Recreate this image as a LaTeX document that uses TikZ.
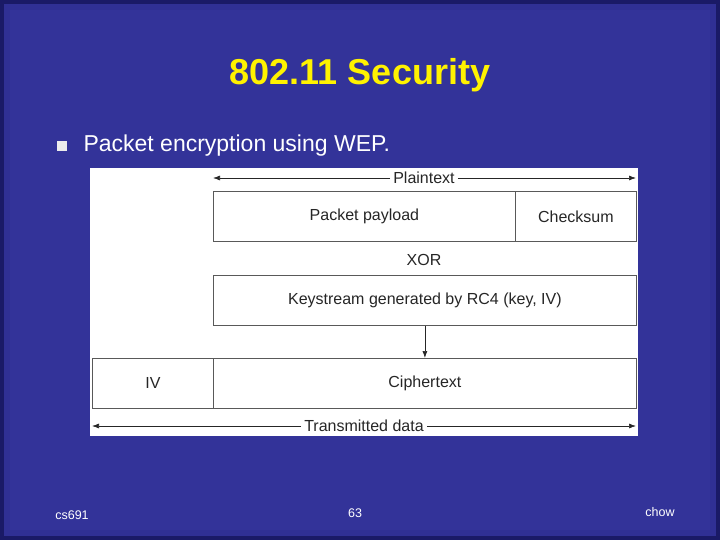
\documentclass[tikz,border=0pt]{standalone}
\usepackage{fontspec}
\setmainfont{Liberation Sans}
\usetikzlibrary{arrows.meta}
\begin{document}
\begin{tikzpicture}[x=1pt,y=-1pt,
  bx/.style={draw=gray!70!black,line width=0.8pt},
  lb/.style={font=\fontsize{16}{18}\selectfont,text=black!85},
  ar/.style={-{Latex[length=7pt,width=5pt]},line width=0.7pt,draw=gray!30!black}]
\definecolor{bg}{HTML}{333399}
\definecolor{bgd}{HTML}{1A1A66}
\fill[bgd] (0,0) rectangle (720,540);
\fill[bg!90!bgd] (4,4) rectangle (716,536);
\fill[bg] (10,10) rectangle (710,530);
\useasboundingbox (0,0) rectangle (720,540);
\node[font=\bfseries\fontsize{36}{40}\selectfont,text=yellow] (title) at (360,75) {802.11 Security};
\node[fill=white!85!gray,minimum size=10pt,inner sep=0pt] (bul) at (62,146) {};
\node[anchor=west,font=\fontsize{23}{27}\selectfont,text=white] (bt) at (80,146) {Packet encryption using WEP.};
\fill[white] (90,168) rectangle (638,436);
\coordinate (pl) at (213,178); \coordinate (pr) at (636,178);
\node[lb,fill=white,inner sep=3pt] (pt) at (424,178) {Plaintext};
\draw[ar] (pt) -- (pl); \draw[ar] (pt) -- (pr);
\node[bx,lb,minimum width=302pt,minimum height=50pt,anchor=north west] (pp) at (213,191) {Packet payload};
\node[bx,lb,minimum width=121pt,minimum height=50pt,anchor=north west] (cs) at (515,191) {Checksum};
\node[lb] (xor) at (424,260) {XOR};
\node[bx,lb,minimum width=423pt,minimum height=50pt,anchor=north west] (ks) at (213,275) {Keystream generated by RC4 (key, IV)};
\node[bx,lb,minimum width=121pt,minimum height=50pt,anchor=north west] (iv) at (92,358) {IV};
\node[bx,lb,minimum width=423pt,minimum height=50pt,anchor=north west] (ct) at (213,358) {Ciphertext};
\draw[ar] (ks.south) -- (ct.north);
\coordinate (tl) at (92,426); \coordinate (tr) at (636,426);
\node[lb,fill=white,inner sep=3pt] (td) at (364,426) {Transmitted data};
\draw[ar] (td) -- (tl); \draw[ar] (td) -- (tr);
\node[text=white,font=\fontsize{12.5}{14}\selectfont] (f1) at (72,515) {cs691};
\node[text=white,font=\fontsize{12.5}{14}\selectfont] (f2) at (355,513) {63};
\node[text=white,font=\fontsize{12.5}{14}\selectfont] (f3) at (660,512) {chow};
\end{tikzpicture}
\end{document}
